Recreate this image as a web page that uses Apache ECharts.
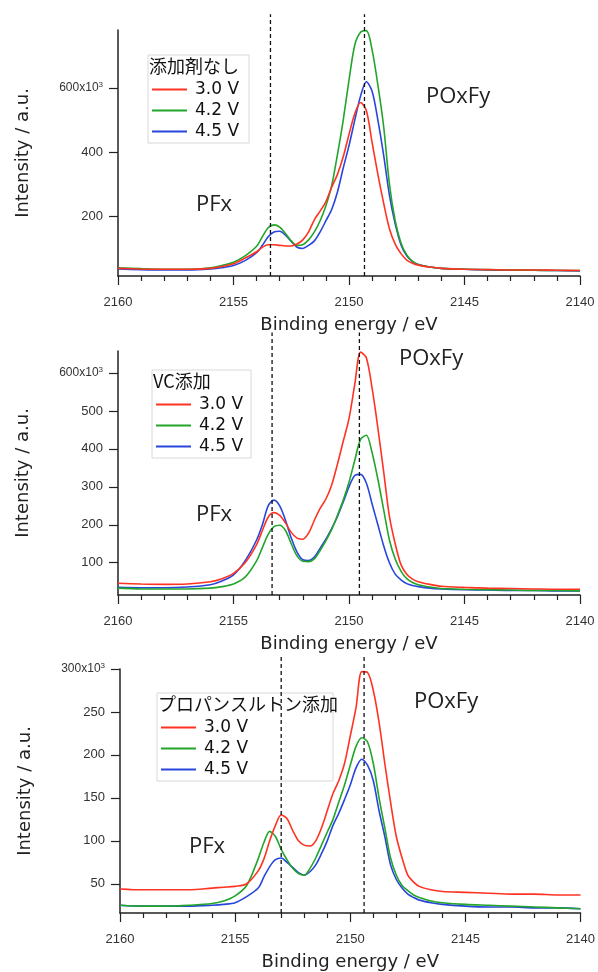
<!DOCTYPE html>
<html>
<head>
<meta charset="utf-8">
<script src="https://cdn.jsdelivr.net/npm/echarts@6/dist/echarts.min.js"></script>
<style>
  html, body { margin: 0; padding: 0; background: #fff; }
  #main { width: 598px; height: 972px; }
</style>
</head>
<body>
<div id="main"></div>
<script>
// binding energy grid (eV), shared by all panels
var energy = [2160, 2159, 2158, 2157, 2156, 2155.5, 2155, 2154.5, 2154,
  2153.75, 2153.5, 2153.25, 2153, 2152.75, 2152.5, 2152.25, 2152,
  2151.75, 2151.5, 2151.25, 2151, 2150.75, 2150.5, 2150.25, 2150,
  2149.75, 2149.5, 2149.25, 2149, 2148.75, 2148.5, 2148.25, 2148,
  2147.75, 2147.5, 2147.25, 2147, 2146.5, 2146, 2145, 2144, 2143, 2142, 2141, 2140];

var seriesNames = ['3.0 V', '4.2 V', '4.5 V'];
var colors = ['#ff3322', '#22a52a', '#2846dc'];

//=========== panel 1 : 添加剤なし (x10^3) ===========
var p1Red = [36, 34, 33, 33, 36, 42, 50, 68, 88,
  102, 110, 110, 108, 106, 106, 112, 125,
  150, 188, 215, 245, 290, 330, 385, 455,
  520, 555, 530, 430, 330, 240, 160, 112,
  82, 62, 52, 46, 40, 36, 33, 32, 31, 31, 30, 29];
var p1Green = [38, 35, 33, 33, 38, 45, 55, 75, 105,
  135, 163, 172, 165, 145, 122, 108, 110,
  125, 150, 185, 232, 295, 392, 500, 625,
  735, 775, 780, 720, 610, 480, 300, 185,
  115, 78, 58, 48, 40, 36, 33, 32, 31, 30, 29, 29];
var p1Blue = [34, 32, 31, 31, 34, 38, 45, 60, 85,
  108, 135, 150, 152, 140, 120, 102, 98,
  108, 122, 150, 185, 220, 275, 350, 420,
  500, 575, 620, 590, 500, 390, 265, 175,
  110, 75, 57, 48, 40, 36, 33, 31, 30, 30, 29, 28];

//=========== panel 2 : VC添加 ===========
var p2Red = [46, 44, 43, 44, 50, 58, 72, 100, 148,
  185, 220, 232, 225, 205, 180, 165, 162,
  178, 212, 243, 268, 305, 360, 420, 480,
  570, 655, 640, 560, 455, 340, 222, 150,
  95, 70, 57, 50, 43, 38, 35, 33, 32, 31, 30, 30];
var p2Green = [33, 31, 31, 31, 33, 37, 44, 62, 105,
  140, 175, 195, 199, 185, 150, 118, 104,
  103, 110, 132, 158, 188, 225, 265, 312,
  370, 425, 436, 390, 320, 240, 160, 110,
  78, 58, 48, 42, 36, 32, 30, 29, 28, 27, 27, 26];
var p2Blue = [35, 34, 34, 36, 42, 52, 68, 105, 160,
  200, 250, 265, 250, 212, 165, 128, 108,
  106, 115, 138, 162, 190, 222, 260, 300,
  330, 333, 310, 255, 200, 145, 100, 70,
  55, 45, 40, 37, 33, 31, 29, 28, 27, 27, 26, 26];

//=========== panel 3 : プロパンスルトン添加 ===========
var p3Red = [44, 43, 43, 43, 45, 46, 47, 50, 65,
  79, 100, 118, 130, 126, 112, 100, 95,
  94, 100, 115, 135, 155, 170, 190, 222,
  255, 297, 296, 275, 238, 190, 145, 105,
  80, 60, 52, 47, 43, 41, 40, 39, 38, 38, 37, 37];
var p3Green = [25, 24, 24, 25, 27, 30, 36, 48, 79,
  98, 111, 105, 90, 78, 68, 62, 60,
  68, 80, 95, 110, 125, 145, 165, 188,
  210, 220, 215, 190, 150, 115, 80, 60,
  48, 42, 37, 34, 30, 28, 26, 25, 24, 23, 22, 21];
var p3Blue = [25, 24, 24, 24, 25, 26, 28, 35, 45,
  58, 70, 78, 80, 75, 69, 63, 60,
  64, 72, 85, 100, 118, 132, 148, 165,
  185, 195, 188, 170, 135, 105, 72, 55,
  45, 38, 34, 31, 28, 26, 24, 23, 23, 22, 22, 21];

// y tick values per panel
var yTicks1 = [200, 400, 600];
var yTicks2 = [100, 200, 300, 400, 500, 600];
var yTicks3 = [50, 100, 150, 200, 250, 300];
var yRange1 = [12, 782];
var yRange2 = [15, 658];
var yRange3 = [16, 300];

// dashed reference lines (eV) and the height they reach
var refLines1 = [2153.4, 2149.33];
var refLines2 = [2153.33, 2149.55];
var refLines3 = [2153.0, 2149.4];
var refTop = [831, 707, 316];

var legendTitles = ['添加剤なし', 'VC添加', 'プロパンスルトン添加'];

var panels = [
  { data: [p1Red, p1Green, p1Blue], ticks: yTicks1, range: yRange1, refs: refLines1,
    grid: { left: 118, top: 30, width: 462, height: 246 },
    legend: { left: 148, top: 55, padRight: 10 },
    pfx: { left: 196, top: 194 }, poxfy: { left: 426, top: 86 } },
  { data: [p2Red, p2Green, p2Blue], ticks: yTicks2, range: yRange2, refs: refLines2,
    grid: { left: 118, top: 351, width: 462, height: 244 },
    legend: { left: 152, top: 370, padRight: 8 },
    pfx: { left: 196, top: 504 }, poxfy: { left: 399, top: 348 } },
  { data: [p3Red, p3Green, p3Blue], ticks: yTicks3, range: yRange3, refs: refLines3,
    grid: { left: 120, top: 669, width: 463, height: 245 },
    legend: { left: 157, top: 693, padRight: 85 },
    pfx: { left: 189, top: 836 }, poxfy: { left: 414, top: 691 } }
];

function zip(xs, ys) {
  var out = [];
  for (var i = 0; i < xs.length; i++) out.push([xs[i], ys[i]]);
  return out;
}

var grids = [], xAxes = [], yAxes = [], series = [], legends = [], titles = [], graphics = [];

panels.forEach(function (p, k) {
  grids.push(p.grid);
  xAxes.push({
    gridIndex: k,
    type: 'value',
    min: 2140,
    max: 2160,
    interval: 5,
    inverse: true,
    name: 'Binding energy / eV',
    nameLocation: 'middle',
    nameGap: 40,
    nameTextStyle: { fontSize: 18, color: '#222', fontFamily: 'DejaVu Sans' },
    axisLine: { lineStyle: { color: '#222', width: 1.5 } },
    axisTick: { length: 9, lineStyle: { color: '#222', width: 1.2 } },
    minorTick: { show: true, splitNumber: 5, length: 5, lineStyle: { color: '#222', width: 1.2 } },
    axisLabel: {
      fontSize: 13, color: '#333', margin: 20, fontFamily: 'Liberation Sans',
      formatter: function (v) { return String(v); }
    },
    splitLine: { show: false }
  });
  yAxes.push({
    gridIndex: k,
    type: 'value',
    min: p.range[0],
    max: p.range[1],
    name: 'Intensity / a.u.',
    nameLocation: 'middle',
    nameGap: 86,
    nameTextStyle: { fontSize: 18, color: '#222', fontFamily: 'DejaVu Sans' },
    axisLine: { show: true, lineStyle: { color: '#222', width: 1.5 } },
    axisTick: { show: true, length: 9, customValues: p.ticks, lineStyle: { color: '#222', width: 1.2 } },
    axisLabel: {
      customValues: p.ticks,
      fontSize: 13,
      color: '#333',
      margin: 15,
      fontFamily: 'Liberation Sans',
      formatter: function (v) {
        return v === p.ticks[p.ticks.length - 1] ? '{a|' + v + 'x10}{s|3}' : String(v);
      },
      rich: {
        a: { fontSize: 12, color: '#333', fontFamily: 'Liberation Sans' },
        s: { fontSize: 8, color: '#333', padding: [0, 0, 7, 0], fontFamily: 'Liberation Sans' }
      }
    },
    splitLine: { show: false }
  });

  p.data.forEach(function (vals, j) {
    series.push({
      name: seriesNames[j],
      type: 'line',
      xAxisIndex: k,
      yAxisIndex: k,
      showSymbol: false,
      smooth: 0.3,
      color: colors[j],
      lineStyle: { width: 1.6, color: colors[j] },
      data: zip(energy, vals),
      z: 3 + (2 - j)
    });
  });

  p.refs.forEach(function (e, j) {
    series.push({
      name: 'ref' + k + '_' + j,
      type: 'line',
      xAxisIndex: k,
      yAxisIndex: k,
      showSymbol: false,
      clip: false,
      silent: true,
      lineStyle: { type: [4, 3], width: 1.3, color: '#111' },
      data: [[e, p.range[0]], [e, refTop[k]]],
      z: 10
    });
  });

  legends.push({
    data: seriesNames,
    orient: 'vertical',
    left: p.legend.left,
    top: p.legend.top,
    icon: 'rect',
    itemWidth: 35,
    itemHeight: 2,
    itemGap: 4,
    padding: [26, p.legend.padRight, 3, 4],
    borderColor: '#d8d8d8',
    borderWidth: 1,
    backgroundColor: '#fff',
    textStyle: { fontSize: 17, color: '#111', fontFamily: 'DejaVu Sans', padding: [0, 0, 0, 3] },
    selectedMode: false
  });

  titles.push({
    text: legendTitles[k],
    left: p.legend.left + 1,
    top: p.legend.top + 2,
    padding: 0,
    textStyle: { fontSize: 18, fontWeight: 'normal', color: '#111', fontFamily: 'Noto Sans CJK JP' }
  });

  graphics.push({
    type: 'text', left: p.pfx.left, top: p.pfx.top, z: 20,
    style: { text: 'PFx', fontSize: 22, fill: '#222', fontFamily: 'Open Sans' }
  });
  graphics.push({
    type: 'text', left: p.poxfy.left, top: p.poxfy.top, z: 20,
    style: { text: 'POxFy', fontSize: 22, fill: '#222', fontFamily: 'Open Sans' }
  });
});

var chart = echarts.init(document.getElementById('main'), null, { renderer: 'canvas' });
chart.setOption({
  animation: false,
  backgroundColor: '#fff',
  title: titles,
  legend: legends,
  grid: grids,
  xAxis: xAxes,
  yAxis: yAxes,
  series: series,
  graphic: graphics
});
</script>
</body>
</html>
